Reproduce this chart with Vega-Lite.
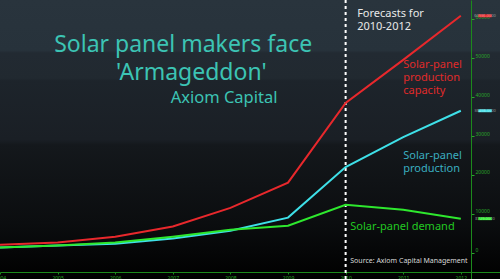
{
  "$schema": "https://vega.github.io/schema/vega-lite/v6.json",
  "width": 500,
  "height": 279,
  "padding": 0,
  "autosize": {"type": "none"},
  "background": "#000000",
  "config": {
    "view": {
      "stroke": null,
      "fill": {
        "gradient": "linear", "x1": 0, "y1": 0, "x2": 0, "y2": 1,
        "stops": [
          {"offset": 0, "color": "#29343d"},
          {"offset": 0.18, "color": "#27323b"},
          {"offset": 0.19, "color": "#222a32"},
          {"offset": 0.28, "color": "#212930"},
          {"offset": 0.29, "color": "#1d242b"},
          {"offset": 0.5, "color": "#1a1f25"},
          {"offset": 0.52, "color": "#14181c"},
          {"offset": 0.8, "color": "#0b0d0f"},
          {"offset": 1, "color": "#000000"}
        ]
      }
    },
    "font": "Noto Sans"
  },
  "resolve": {"scale": {"color": "independent"}},
  "datasets": {
    "series": [
      {"year": 2004, "value": 2000, "series": "capacity"},
      {"year": 2005, "value": 2600, "series": "capacity"},
      {"year": 2006, "value": 4100, "series": "capacity"},
      {"year": 2007, "value": 6700, "series": "capacity"},
      {"year": 2008, "value": 11500, "series": "capacity"},
      {"year": 2009, "value": 18000, "series": "capacity"},
      {"year": 2010, "value": 38500, "series": "capacity"},
      {"year": 2011, "value": 49600, "series": "capacity"},
      {"year": 2012, "value": 60936, "series": "capacity"},
      {"year": 2004, "value": 1300, "series": "production"},
      {"year": 2005, "value": 1800, "series": "production"},
      {"year": 2006, "value": 2300, "series": "production"},
      {"year": 2007, "value": 3600, "series": "production"},
      {"year": 2008, "value": 5600, "series": "production"},
      {"year": 2009, "value": 9000, "series": "production"},
      {"year": 2010, "value": 22000, "series": "production"},
      {"year": 2011, "value": 29700, "series": "production"},
      {"year": 2012, "value": 36498, "series": "production"},
      {"year": 2004, "value": 1300, "series": "demand"},
      {"year": 2005, "value": 1800, "series": "demand"},
      {"year": 2006, "value": 2600, "series": "demand"},
      {"year": 2007, "value": 4100, "series": "demand"},
      {"year": 2008, "value": 5900, "series": "demand"},
      {"year": 2009, "value": 6900, "series": "demand"},
      {"year": 2010, "value": 12300, "series": "demand"},
      {"year": 2011, "value": 11000, "series": "demand"},
      {"year": 2012, "value": 8729, "series": "demand"}
    ],
    "tags": [
      {"year": 2012.42, "value": 60936, "series": "capacity", "label": "60936.0000"},
      {"year": 2012.42, "value": 36498, "series": "production", "label": "36498.0000"},
      {"year": 2012.42, "value": 8729, "series": "demand", "label": "8729.0000"}
    ],
    "labels": [
      {"year": 2007.18, "value": 51600, "kind": "title", "text": "Solar panel makers face"},
      {"year": 2007.32, "value": 44400, "kind": "title", "text": "'Armageddon'"},
      {"year": 2007.89, "value": 38500, "kind": "subtitle", "text": "Axiom Capital"},
      {"year": 2010.2, "value": 60600, "kind": "note", "text": "Forecasts for\n2010-2012"},
      {"year": 2011.0, "value": 47500, "kind": "capacity", "text": "Solar-panel\nproduction\ncapacity"},
      {"year": 2011.0, "value": 24100, "kind": "production", "text": "Solar-panel\nproduction"},
      {"year": 2010.08, "value": 5800, "kind": "demand", "text": "Solar-panel demand"},
      {"year": 2010.08, "value": -2700, "kind": "source", "text": "Source: Axiom Capital Management"}
    ]
  },
  "encoding": {
    "x": {
      "field": "year", "type": "quantitative",
      "scale": {"domain": [2004, 2012.68], "nice": false, "zero": false},
      "axis": {
        "title": null, "values": [2004, 2005, 2006, 2007, 2008, 2009, 2010, 2011, 2012],
        "format": "d", "offset": -7, "grid": false,
        "domainColor": "#1c8a1c", "domainWidth": 1, "tickColor": "#1c8a1c", "tickSize": 2,
        "labelColor": "#2aa52a", "labelFontSize": 5, "labelPadding": 1, "labelFlush": false
      }
    },
    "y": {
      "field": "value", "type": "quantitative",
      "scale": {"domain": [-6800, 65000], "nice": false, "zero": false},
      "axis": {
        "title": null, "orient": "right", "offset": -29, "grid": false,
        "values": [0, 10000, 20000, 30000, 40000, 50000, 60000], "format": "d",
        "domainColor": "#1c8a1c", "domainWidth": 1, "tickColor": "#2aa52a", "tickSize": 3,
        "labelColor": "#2aa52a", "labelFontSize": 5, "labelPadding": 1, "labelBaseline": "bottom"
      }
    }
  },
  "layer": [
    {
      "data": {"values": [{"year": 2010}]},
      "mark": {"type": "rule", "color": "#ffffff", "strokeWidth": 2, "strokeDash": [3, 3]},
      "encoding": {"y": null}
    },
    {
      "data": {"name": "series"},
      "mark": {"type": "line", "strokeWidth": 2},
      "encoding": {
        "color": {
          "field": "series", "type": "nominal", "legend": null,
          "scale": {"domain": ["capacity", "production", "demand"], "range": ["#e8282c", "#3ee0e8", "#2ee82e"]}
        }
      }
    },
    {
      "data": {"name": "tags"},
      "mark": {"type": "point", "shape": "M-1,-0.22H1V0.22H-1Z", "size": 182, "filled": true, "opacity": 1, "clip": false},
      "encoding": {
        "color": {
          "field": "series", "type": "nominal", "legend": null,
          "scale": {"domain": ["capacity", "production", "demand"], "range": ["#e8282c", "#3ee0e8", "#2ee82e"]}
        }
      }
    },
    {
      "data": {"name": "tags"},
      "mark": {"type": "text", "fontSize": 4, "color": "#ffffff", "opacity": 0.45, "align": "center", "baseline": "middle"},
      "encoding": {"text": {"field": "label"}}
    },
    {
      "data": {"name": "labels"},
      "transform": [{"filter": "datum.kind == 'title'"}],
      "mark": {"type": "text", "align": "center", "baseline": "alphabetic", "fontSize": 23, "color": "#3cc4b4"},
      "encoding": {"text": {"field": "text"}}
    },
    {
      "data": {"name": "labels"},
      "transform": [{"filter": "datum.kind == 'subtitle'"}],
      "mark": {"type": "text", "align": "center", "baseline": "alphabetic", "fontSize": 16.5, "color": "#3cc4b4"},
      "encoding": {"text": {"field": "text"}}
    },
    {
      "data": {"name": "labels"},
      "transform": [{"filter": "datum.kind == 'source'"}],
      "mark": {"type": "text", "align": "left", "baseline": "alphabetic", "fontSize": 7, "color": "#d8d8d8"},
      "encoding": {"text": {"field": "text"}}
    },
    {
      "data": {"name": "labels"},
      "transform": [{"filter": "datum.kind != 'title' && datum.kind != 'subtitle' && datum.kind != 'source'"}],
      "mark": {"type": "text", "align": "left", "baseline": "alphabetic", "lineBreak": "\n", "lineHeight": 13, "fontSize": 11},
      "encoding": {
        "text": {"field": "text"},
        "color": {
          "field": "kind", "type": "nominal", "legend": null,
          "scale": {
            "domain": ["note", "capacity", "production", "demand"],
            "range": ["#e8e8e8", "#e02a2a", "#3aaec0", "#22c822"]
          }
        }
      }
    }
  ]
}
